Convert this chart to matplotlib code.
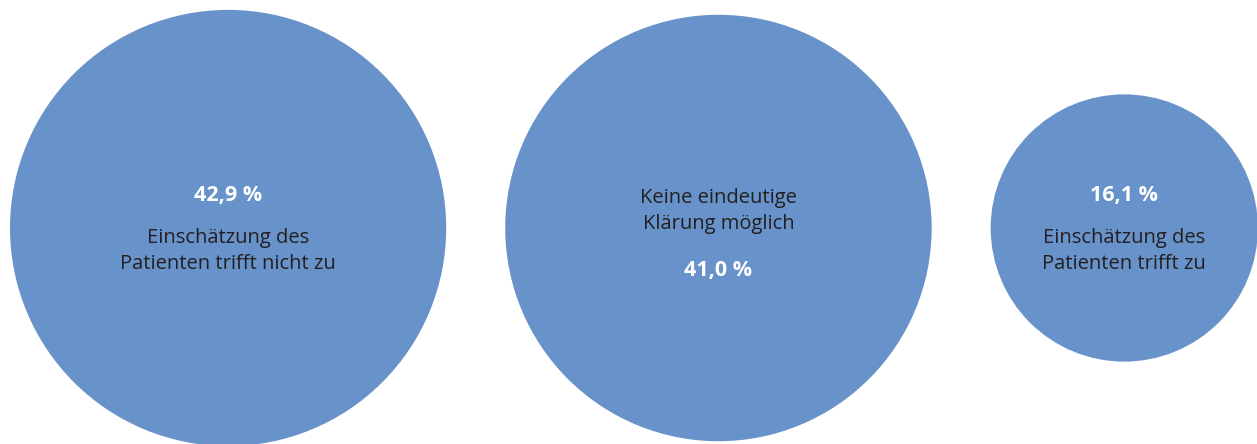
import numpy as np
import matplotlib.pyplot as plt
from matplotlib.patches import Circle

# shares in percent, one bubble each
values = [42.9, 41.0, 16.1]
value_labels = ["42,9 %", "41,0 %", "16,1 %"]
captions = ["Einschätzung des\nPatienten trifft nicht zu",
            "Keine eindeutige\nKlärung möglich",
            "Einschätzung des\nPatienten trifft zu"]
value_first = [True, False, True]

fill = "#6892ca"
text_dark = "#231f20"
plt.rcParams['font.family'] = ['Open Sans', 'DejaVu Sans']

W, H = 1257, 444
fig = plt.figure(figsize=(W / 100, H / 100), dpi=100)
ax = fig.add_axes([0, 0, 1, 1])
ax.set_xlim(0, W)
ax.set_ylim(H, 0)
ax.set_aspect('equal')
ax.axis('off')

# bubble area proportional to the share
scale = 33.3
radii = [scale * np.sqrt(v) for v in values]
gap = 59
cy = 228
x = 10
for r, lab, cap, vf in zip(radii, value_labels, captions, value_first):
    cx = x + r
    ax.add_patch(Circle((cx, cy), r, facecolor=fill, edgecolor='none'))
    if vf:
        ax.text(cx, cy - 33, lab, ha='center', va='center', color='white',
                fontsize=15.5, fontweight='bold')
        ax.text(cx, cy + 23, cap, ha='center', va='center', color=text_dark,
                fontsize=14.5, linespacing=1.38)
    else:
        ax.text(cx, cy - 17, cap, ha='center', va='center', color=text_dark,
                fontsize=14.5, linespacing=1.38)
        ax.text(cx, cy + 42, lab, ha='center', va='center', color='white',
                fontsize=15.5, fontweight='bold')
    x = cx + r + gap

fig.savefig("out.png", dpi=100)
